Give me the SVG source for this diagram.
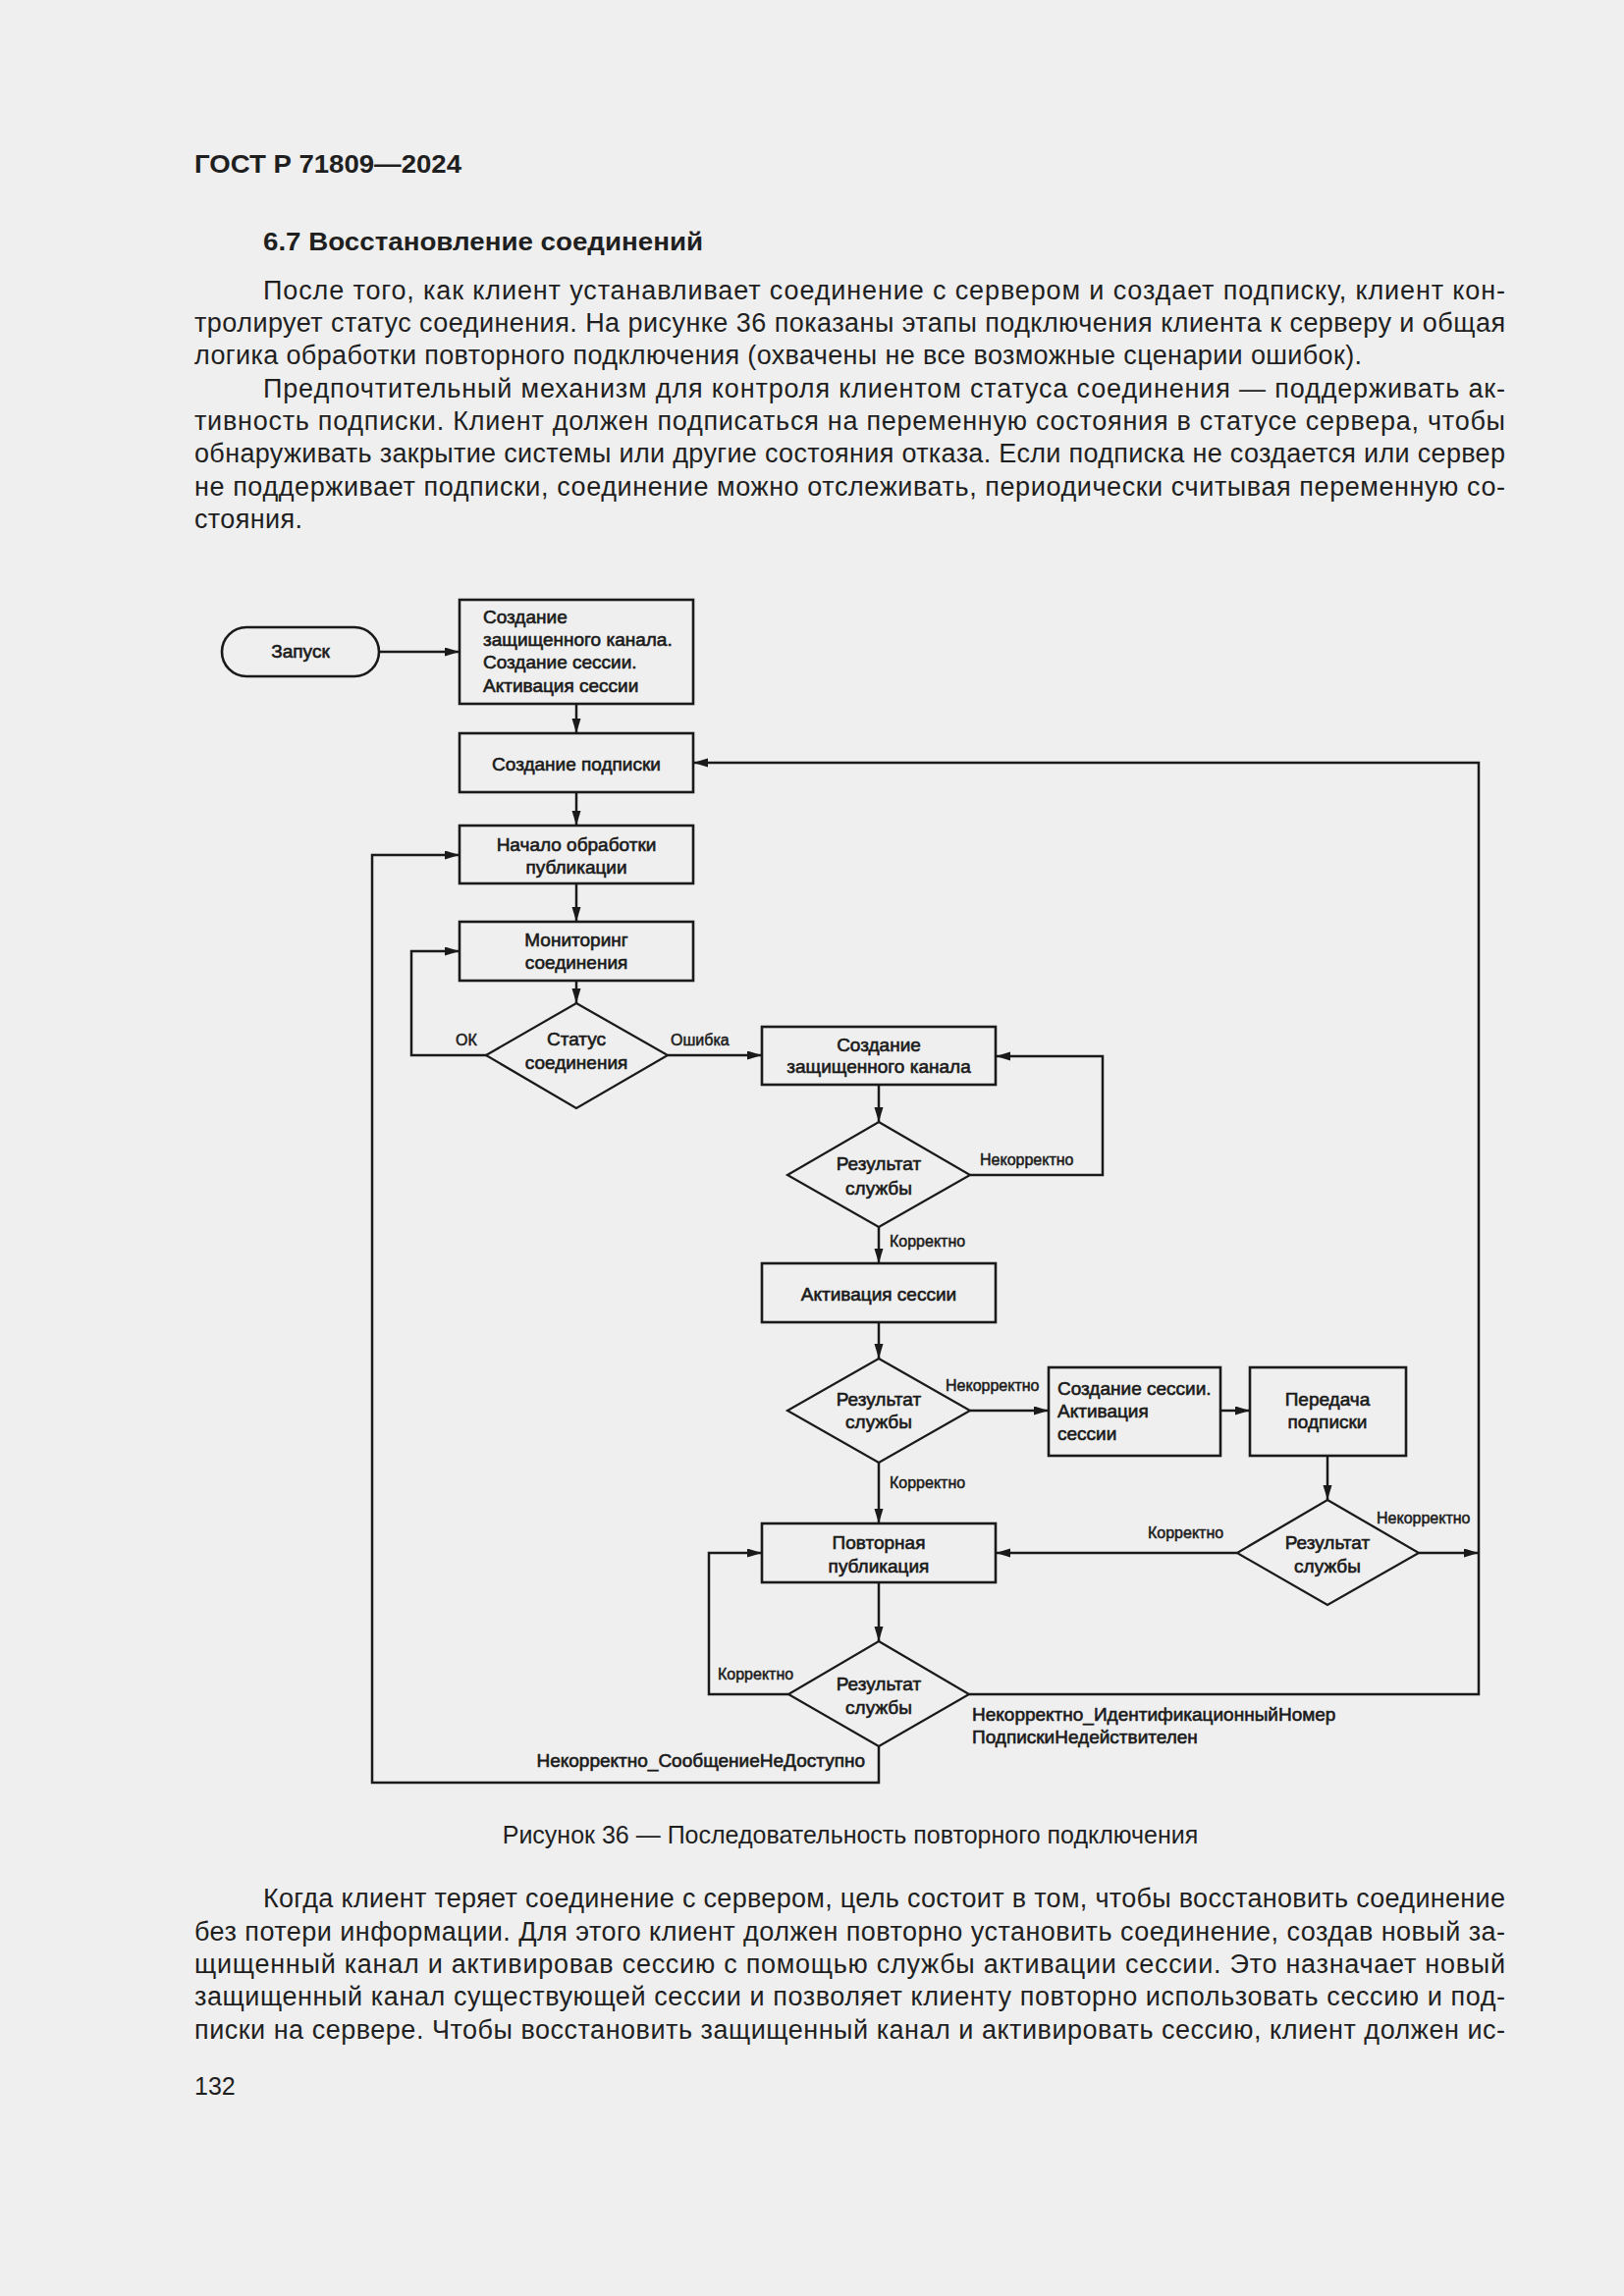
<svg xmlns="http://www.w3.org/2000/svg" width="1654" height="2339" viewBox="0 0 1654 2339">
<defs>
<marker id="ah" markerUnits="userSpaceOnUse" markerWidth="16" markerHeight="10" refX="15" refY="4.5" orient="auto">
<path d="M0,0 L15,4.5 L0,9 z" fill="#1a1a1a"/>
</marker>
<style>
.bg{fill:#efefef}
.body{font-family:"Liberation Sans",Arial,sans-serif;font-size:27px;fill:#1f1f1f}
.cap{font-family:"Liberation Sans",Arial,sans-serif;font-size:25px;fill:#1f1f1f;text-anchor:middle}
.pn{font-family:"Liberation Sans",Arial,sans-serif;font-size:25px;fill:#1f1f1f}
.hb{font-family:"Liberation Sans",Arial,sans-serif;font-weight:bold;fill:#1f1f1f}
.box{fill:none;stroke:#1a1a1a;stroke-width:2.6}
.dia{fill:none;stroke:#1a1a1a;stroke-width:2.2}
.t{font-family:"Liberation Sans",Arial,sans-serif;font-size:19px;fill:#1a1a1a;stroke:#1a1a1a;stroke-width:0.6;text-anchor:middle}
.tl{font-family:"Liberation Sans",Arial,sans-serif;font-size:19px;fill:#1a1a1a;stroke:#1a1a1a;stroke-width:0.6}
.lb{font-family:"Liberation Sans",Arial,sans-serif;font-size:16px;fill:#1a1a1a;stroke:#1a1a1a;stroke-width:0.5}
.la{fill:none;stroke:#1a1a1a;stroke-width:2.5;marker-end:url(#ah)}
</style>
</defs>
<rect class="bg" x="0" y="0" width="1654" height="2339"/>

<g id="page-text">
<text class="hb" x="198" y="176" font-size="26" textLength="272" lengthAdjust="spacingAndGlyphs">ГОСТ Р 71809—2024</text>
<text class="hb" x="268" y="255" font-size="25" textLength="448" lengthAdjust="spacingAndGlyphs">6.7 Восстановление соединений</text>
<text class="body" x="268" y="305" textLength="1265" lengthAdjust="spacing">После того, как клиент устанавливает соединение с сервером и создает подписку, клиент кон-</text>
<text class="body" x="198" y="338" textLength="1335" lengthAdjust="spacing">тролирует статус соединения. На рисунке 36 показаны этапы подключения клиента к серверу и общая</text>
<text class="body" x="198" y="371" textLength="1189" lengthAdjust="spacing">логика обработки повторного подключения (охвачены не все возможные сценарии ошибок).</text>
<text class="body" x="268" y="405" textLength="1265" lengthAdjust="spacing">Предпочтительный механизм для контроля клиентом статуса соединения — поддерживать ак-</text>
<text class="body" x="198" y="438" textLength="1335" lengthAdjust="spacing">тивность подписки. Клиент должен подписаться на переменную состояния в статусе сервера, чтобы</text>
<text class="body" x="198" y="471" textLength="1335" lengthAdjust="spacing">обнаруживать закрытие системы или другие состояния отказа. Если подписка не создается или сервер</text>
<text class="body" x="198" y="505" textLength="1335" lengthAdjust="spacing">не поддерживает подписки, соединение можно отслеживать, периодически считывая переменную со-</text>
<text class="body" x="198" y="538" textLength="110" lengthAdjust="spacing">стояния.</text>
<text class="cap" x="866" y="1878">Рисунок 36 — Последовательность повторного подключения</text>
<text class="body" x="268" y="1943" textLength="1265" lengthAdjust="spacing">Когда клиент теряет соединение с сервером, цель состоит в том, чтобы восстановить соединение</text>
<text class="body" x="198" y="1977" textLength="1335" lengthAdjust="spacing">без потери информации. Для этого клиент должен повторно установить соединение, создав новый за-</text>
<text class="body" x="198" y="2010" textLength="1335" lengthAdjust="spacing">щищенный канал и активировав сессию с помощью службы активации сессии. Это назначает новый</text>
<text class="body" x="198" y="2043" textLength="1335" lengthAdjust="spacing">защищенный канал существующей сессии и позволяет клиенту повторно использовать сессию и под-</text>
<text class="body" x="198" y="2077" textLength="1335" lengthAdjust="spacing">писки на сервере. Чтобы восстановить защищенный канал и активировать сессию, клиент должен ис-</text>
<text class="pn" x="198" y="2134">132</text>
</g>

<g id="connectors">
<line class="la" x1="386" y1="664" x2="468" y2="664"/>
<line class="la" x1="587" y1="717" x2="587" y2="747"/>
<line class="la" x1="587" y1="807" x2="587" y2="841"/>
<line class="la" x1="587" y1="900" x2="587" y2="939"/>
<line class="la" x1="587" y1="999" x2="587" y2="1022"/>
<polyline class="la" points="496,1075 419,1075 419,969 468,969"/>
<line class="la" x1="680" y1="1075" x2="776" y2="1075"/>
<line class="la" x1="895" y1="1105" x2="895" y2="1143"/>
<polyline class="la" points="988,1197 1123,1197 1123,1076 1014,1076"/>
<line class="la" x1="895" y1="1250" x2="895" y2="1287"/>
<line class="la" x1="895" y1="1347" x2="895" y2="1384"/>
<line class="la" x1="988" y1="1437" x2="1068" y2="1437"/>
<line class="la" x1="1243" y1="1437" x2="1273" y2="1437"/>
<line class="la" x1="1352" y1="1483" x2="1352" y2="1528"/>
<line class="la" x1="1260" y1="1582" x2="1014" y2="1582"/>
<line class="la" x1="1445" y1="1582" x2="1506" y2="1582"/>
<line class="la" x1="895" y1="1490" x2="895" y2="1552"/>
<line class="la" x1="895" y1="1612" x2="895" y2="1672"/>
<polyline class="la" points="803,1726 722,1726 722,1582 776,1582"/>
<polyline class="la" points="987,1726 1506,1726 1506,777 706,777"/>
<polyline class="la" points="895,1779 895,1816 379,1816 379,871 468,871"/>
<text class="lb" x="464" y="1065">ОК</text>
<text class="lb" x="683" y="1065">Ошибка</text>
<text class="lb" x="998" y="1187">Некорректно</text>
<text class="lb" x="906" y="1270">Корректно</text>
<text class="lb" x="963" y="1417">Некорректно</text>
<text class="lb" x="906" y="1516">Корректно</text>
<text class="lb" x="1169" y="1567">Корректно</text>
<text class="lb" x="1402" y="1552">Некорректно</text>
<text class="lb" x="731" y="1711">Корректно</text>
<text class="tl" x="990" y="1753">Некорректно_ИдентификационныйНомер</text>
<text class="tl" x="990" y="1776">ПодпискиНедействителен</text>
<text class="tl" x="881" y="1800" text-anchor="end">Некорректно_СообщениеНеДоступно</text>
</g>

<g id="n-start">
<rect class="box" x="226" y="639" width="160" height="50" rx="25" ry="25"/>
<text class="t" x="306" y="670">Запуск</text>
</g>
<g id="n-init">
<rect class="box" x="468" y="611" width="238" height="106"/>
<text class="tl" x="492" y="635">Создание</text>
<text class="tl" x="492" y="658">защищенного канала.</text>
<text class="tl" x="492" y="681">Создание сессии.</text>
<text class="tl" x="492" y="705">Активация сессии</text>
</g>
<g id="n-sub">
<rect class="box" x="468" y="747" width="238" height="60"/>
<text class="t" x="587" y="785">Создание подписки</text>
</g>
<g id="n-pub">
<rect class="box" x="468" y="841" width="238" height="59"/>
<text class="t" x="587" y="867">Начало обработки</text>
<text class="t" x="587" y="890">публикации</text>
</g>
<g id="n-mon">
<rect class="box" x="468" y="939" width="238" height="60"/>
<text class="t" x="587" y="964">Мониторинг</text>
<text class="t" x="587" y="987">соединения</text>
</g>
<g id="d-status">
<polygon class="dia" points="587,1022 680,1075 587,1129 495,1075"/>
<text class="t" x="587" y="1065">Статус</text>
<text class="t" x="587" y="1089">соединения</text>
</g>
<g id="n-chan">
<rect class="box" x="776" y="1046" width="238" height="59"/>
<text class="t" x="895" y="1071">Создание</text>
<text class="t" x="895" y="1093">защищенного канала</text>
</g>
<g id="d-res1">
<polygon class="dia" points="895,1143 988,1197 895,1250 802,1197"/>
<text class="t" x="895" y="1192">Результат</text>
<text class="t" x="895" y="1217">службы</text>
</g>
<g id="n-act">
<rect class="box" x="776" y="1287" width="238" height="60"/>
<text class="t" x="895" y="1325">Активация сессии</text>
</g>
<g id="d-res2">
<polygon class="dia" points="895,1384 988,1437 895,1490 802,1437"/>
<text class="t" x="895" y="1432">Результат</text>
<text class="t" x="895" y="1455">службы</text>
</g>
<g id="n-newsess">
<rect class="box" x="1068" y="1393" width="175" height="90"/>
<text class="tl" x="1077" y="1421">Создание сессии.</text>
<text class="tl" x="1077" y="1444">Активация</text>
<text class="tl" x="1077" y="1467">сессии</text>
</g>
<g id="n-transfer">
<rect class="box" x="1273" y="1393" width="159" height="90"/>
<text class="t" x="1352" y="1432">Передача</text>
<text class="t" x="1352" y="1455">подписки</text>
</g>
<g id="d-res3">
<polygon class="dia" points="1352,1528 1445,1582 1352,1635 1260,1582"/>
<text class="t" x="1352" y="1578">Результат</text>
<text class="t" x="1352" y="1602">службы</text>
</g>
<g id="n-republish">
<rect class="box" x="776" y="1552" width="238" height="60"/>
<text class="t" x="895" y="1578">Повторная</text>
<text class="t" x="895" y="1602">публикация</text>
</g>
<g id="d-res4">
<polygon class="dia" points="895,1672 987,1726 895,1779 803,1726"/>
<text class="t" x="895" y="1722">Результат</text>
<text class="t" x="895" y="1746">службы</text>
</g>
</svg>
